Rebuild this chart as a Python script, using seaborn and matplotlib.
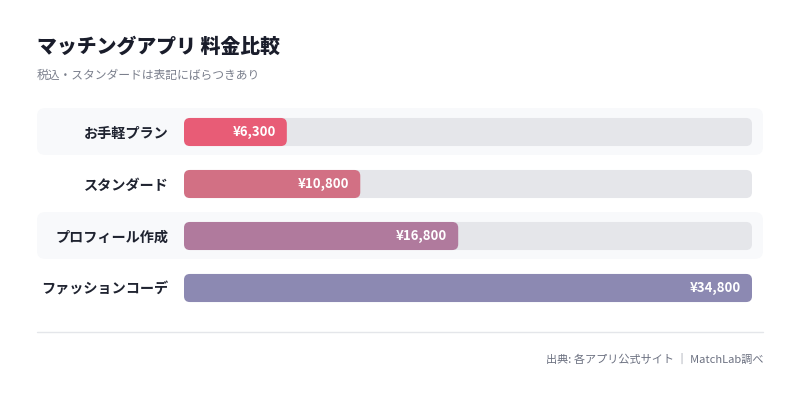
import matplotlib
matplotlib.use("Agg")

import pandas as pd
import seaborn as sns
import matplotlib.pyplot as plt
from matplotlib.patches import FancyBboxPatch
from matplotlib import transforms

# データ
plans = ["お手軽プラン", "スタンダード", "プロフィール作成", "ファッションコーデ"]
prices = [6300, 10800, 16800, 34800]
bar_colors = ["#E85C76", "#D27084", "#B07A9D", "#8C89B2"]

title = "マッチングアプリ 料金比較"
subtitle = "税込・スタンダードは表記にばらつきあり"
source = "出典: 各アプリ公式サイト ｜ MatchLab調べ"

df = pd.DataFrame({"plan": plans, "price": prices})
df["track"] = df["price"].max()

sns.set_theme(style="white")
plt.rcParams["font.family"] = ["Noto Sans CJK JP", "DejaVu Sans"]

W, H = 800, 401
fig = plt.figure(figsize=(8, 4.01), dpi=100)
fig.patch.set_facecolor("white")

# 軸はバーの範囲 (x: 184-752px, 行: 106-314px)
ax = fig.add_axes([184 / W, (H - 314) / H, 568 / W, 208 / H])
ax.set_facecolor("none")

# トラック(背景バー)
sns.barplot(data=df, x="track", y="plan", color="#E5E6EA", width=0.54,
            orient="h", saturation=1, ax=ax, zorder=2)
n_track = len(ax.patches)
# 料金バー
sns.barplot(data=df, x="price", y="plan", hue="plan", palette=bar_colors,
            width=0.54, orient="h", saturation=1, legend=False, ax=ax, zorder=3)

ax.set_xlim(0, df["price"].max())
ax.set_ylim(len(plans) - 0.5, -0.5)

# 角丸に置き換え
x_per_px = df["price"].max() / 568
y_per_px = 1 / 52
aspect = y_per_px / x_per_px
for i, p in enumerate(list(ax.patches)):
    x, y, w, h = p.get_x(), p.get_y(), p.get_width(), p.get_height()
    fc = p.get_facecolor()
    p.remove()
    ax.add_patch(FancyBboxPatch((x, y), w, h,
                                boxstyle=f"round,pad=0,rounding_size={6 * x_per_px}",
                                mutation_aspect=aspect, fc=fc, ec="none",
                                zorder=2 if i < n_track else 3))

# 行の背景(1行目と3行目)
blend = transforms.blended_transform_factory(fig.transFigure, ax.transData)
for i in range(0, len(plans), 2):
    bg = FancyBboxPatch((37 / W, i - 0.46), (763 - 37) / W, 0.9,
                        boxstyle=f"round,pad=0,rounding_size={8 / W}",
                        mutation_aspect=(1 / 52) / (1 / W),
                        transform=blend, fc="#F8F9FB", ec="none",
                        clip_on=False, zorder=0)
    ax.add_patch(bg)

# 値ラベル
for i, v in enumerate(prices):
    ax.text(v - 11 * x_per_px, i, f"¥{v:,}", ha="right", va="center",
            color="white", fontsize=9.5, fontweight="bold", zorder=4)

ax.set_xlabel("")
ax.set_ylabel("")
ax.set_xticks([])
ax.tick_params(axis="y", length=0, pad=11)
for lab in ax.get_yticklabels():
    lab.set_fontweight("bold")
    lab.set_fontsize(10.2)
    lab.set_color("#1F2330")
sns.despine(ax=ax, left=True, bottom=True)

# タイトル
fig.text(37 / W, 1 - 47 / H, title, ha="left", va="center",
         fontsize=14.3, fontweight="heavy", color="#1A1D2B")
fig.text(37 / W, 1 - 75 / H, subtitle, ha="left", va="center",
         fontsize=8.5, color="#7A7F8C")

# 区切り線と出典
fig.add_artist(plt.Line2D([37 / W, 763 / W], [1 - 332 / H, 1 - 332 / H],
                          color="#E4E6EA", linewidth=1))
fig.text(763 / W, 1 - 359 / H, source, ha="right", va="center",
         fontsize=8, color="#6B7080")

fig.savefig("out.png", dpi=100, facecolor="white")
